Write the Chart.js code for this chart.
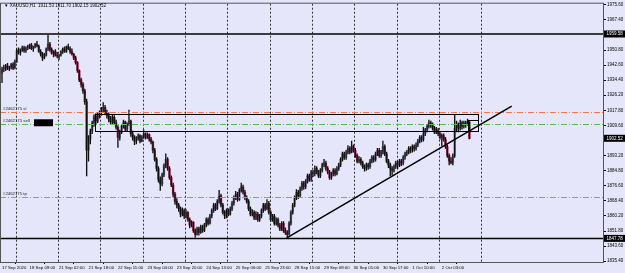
<!DOCTYPE html>
<html>
<head>
<meta charset="utf-8">
<title>XAUUSD,H1</title>
<script src="https://cdn.jsdelivr.net/npm/chart.js@4.4.1/dist/chart.umd.min.js"></script>
<style>
  html, body { margin: 0; padding: 0; background: #e6e6fa; }
  canvas { display: block; }
</style>
</head>
<body>
<canvas id="price_chart" width="625" height="273"></canvas>
<script>
// XAUUSD H1 candles, 17 Sep 2020 17:00 .. 2 Oct 2020
const opens = [
  1938.0,1940.5,1941.0,1942.0,1940.5,1941.5,1943.0,1941.0,1944.5,1950.5,
  1949.5,1951.0,1952.0,1950.5,1952.0,1952.5,1953.5,1951.5,1952.5,1954.0,
  1953.0,1950.0,1948.5,1946.5,1948.0,1951.5,1954.0,1951.0,1949.0,1950.0,
  1948.0,1947.5,1948.0,1950.0,1951.5,1950.0,1952.5,1951.5,1950.0,1948.5,
  1946.5,1944.0,1939.5,1934.5,1932.0,1928.5,1922.5,1896.0,1902.0,1906.5,
  1911.0,1914.5,1912.0,1915.5,1916.5,1918.5,1919.5,1916.5,1915.0,1913.0,
  1911.5,1914.0,1911.0,1908.5,1903.0,1906.0,1909.0,1911.5,1907.5,1910.0,
  1912.0,1905.0,1903.0,1901.0,1902.5,1904.0,1901.0,1903.5,1905.0,1903.0,
  1904.5,1902.0,1900.5,1896.0,1891.0,1886.0,1880.0,1877.5,1882.5,1887.5,
  1891.0,1886.0,1881.0,1877.0,1872.0,1868.0,1866.0,1864.0,1861.0,1863.0,
  1860.0,1862.0,1858.0,1855.0,1856.5,1852.0,1850.0,1853.0,1851.0,1854.0,
  1852.0,1855.0,1858.0,1856.0,1860.0,1863.0,1866.0,1864.0,1868.0,1871.0,
  1866.0,1862.0,1860.0,1863.0,1861.0,1864.0,1867.0,1870.0,1872.0,1869.0,
  1874.0,1876.0,1873.0,1870.0,1868.0,1864.0,1861.0,1862.0,1859.0,1861.0,
  1858.0,1860.0,1863.0,1866.0,1864.0,1867.0,1862.0,1858.0,1860.0,1856.0,
  1858.0,1855.0,1853.0,1856.0,1852.0,1851.0,1850.0,1856.0,1862.0,1866.0,
  1870.0,1873.0,1871.0,1875.0,1878.0,1876.0,1879.0,1882.0,1880.0,1884.0,
  1883.0,1886.0,1884.0,1882.0,1885.0,1888.0,1889.0,1886.0,1884.0,1881.0,
  1883.0,1885.0,1883.0,1886.0,1888.0,1891.0,1894.0,1892.0,1895.0,1897.0,
  1895.0,1898.0,1896.0,1893.0,1890.0,1891.0,1889.0,1887.0,1886.0,1888.0,
  1887.0,1890.0,1892.0,1891.0,1894.0,1896.0,1893.0,1895.0,1898.0,1894.0,
  1890.0,1888.0,1886.0,1885.0,1887.0,1889.0,1888.0,1890.0,1889.0,1892.0,
  1894.0,1895.0,1897.0,1896.0,1898.0,1897.0,1899.0,1901.0,1903.0,1902.0,
  1905.0,1907.0,1909.0,1911.0,1910.0,1908.0,1906.0,1907.0,1905.0,1903.0,
  1904.0,1902.0,1898.0,1893.0,1890.0,1889.0,1893.0,1908.0,1910.0,1908.0,
  1911.0,1909.0,1911.0,1910.0,1911.53
];
const highs = [
  1941.5,1942.5,1943.0,1943.5,1942.0,1943.5,1944.0,1945.5,1951.5,1952.0,
  1951.5,1953.0,1953.0,1952.5,1953.5,1954.0,1954.5,1953.0,1954.5,1955.5,
  1953.5,1951.0,1949.5,1949.0,1952.0,1958.8,1955.0,1952.0,1950.5,1951.0,
  1949.5,1948.5,1950.5,1952.0,1952.5,1953.0,1954.0,1952.5,1951.5,1949.0,
  1947.5,1944.5,1940.0,1935.5,1933.0,1929.5,1924.0,1904.0,1907.5,1912.0,
  1915.5,1916.0,1916.5,1917.5,1919.5,1922.0,1920.5,1918.0,1916.5,1914.5,
  1915.5,1915.0,1912.5,1909.5,1907.0,1910.0,1912.5,1912.0,1911.0,1918.0,
  1912.5,1906.5,1904.0,1903.5,1905.0,1904.5,1904.0,1907.0,1905.5,1905.5,
  1905.0,1903.0,1901.0,1897.0,1892.0,1887.0,1881.5,1883.5,1888.5,1894.0,
  1892.0,1887.0,1882.0,1878.0,1873.0,1869.5,1867.0,1865.0,1864.5,1864.0,
  1863.5,1862.5,1859.0,1857.5,1857.0,1853.0,1854.0,1854.0,1855.0,1855.0,
  1856.0,1859.0,1859.0,1861.0,1864.0,1867.0,1867.0,1869.0,1874.0,1872.0,
  1867.0,1863.0,1864.0,1864.0,1865.0,1868.0,1871.0,1873.5,1873.0,1875.0,
  1878.0,1877.0,1874.0,1871.0,1869.0,1865.0,1863.5,1863.0,1862.5,1862.0,
  1861.0,1864.0,1867.0,1867.0,1869.0,1868.0,1863.0,1861.0,1861.0,1859.0,
  1859.0,1856.0,1857.0,1857.0,1853.5,1852.0,1857.0,1863.0,1867.0,1871.0,
  1874.5,1874.0,1876.0,1879.0,1879.0,1880.0,1883.0,1883.0,1885.0,1885.0,
  1887.5,1887.0,1885.0,1886.0,1889.0,1891.0,1890.0,1887.0,1885.0,1884.0,
  1886.0,1886.0,1887.0,1889.0,1892.0,1895.0,1895.0,1896.0,1898.5,1898.0,
  1901.0,1899.0,1897.0,1894.0,1892.5,1892.0,1890.0,1888.0,1889.0,1889.0,
  1891.0,1893.0,1893.0,1895.0,1897.0,1897.0,1896.0,1901.0,1899.0,1895.0,
  1891.0,1889.0,1887.0,1888.0,1890.0,1890.0,1891.0,1891.0,1893.0,1895.0,
  1896.0,1898.0,1898.0,1899.0,1899.0,1900.0,1902.0,1904.0,1904.0,1908.5,
  1908.0,1910.0,1912.5,1912.0,1911.0,1909.0,1908.5,1908.0,1906.0,1905.0,
  1905.0,1903.0,1899.0,1894.0,1892.0,1894.0,1915.5,1912.0,1911.0,1912.5,
  1912.0,1912.0,1912.0,1913.0,1911.70
];
const lows = [
  1933.0,1939.0,1939.5,1940.0,1939.5,1940.5,1940.0,1940.5,1944.0,1948.5,
  1948.0,1950.0,1949.5,1949.5,1951.0,1951.5,1951.0,1950.0,1952.0,1952.5,
  1949.5,1947.5,1945.0,1946.0,1947.5,1950.5,1950.0,1948.5,1947.0,1947.5,
  1946.5,1945.5,1947.5,1949.0,1949.5,1949.5,1951.0,1949.0,1948.0,1945.5,
  1943.0,1938.5,1933.5,1930.5,1927.0,1921.0,1882.0,1890.0,1899.5,1905.0,
  1909.0,1910.5,1911.0,1913.5,1915.0,1917.0,1915.5,1913.5,1911.5,1910.0,
  1910.5,1910.0,1907.5,1897.5,1901.5,1905.0,1908.0,1906.5,1906.5,1909.5,
  1903.5,1901.5,1899.0,1899.5,1901.5,1900.0,1900.5,1902.5,1902.0,1902.5,
  1901.0,1899.5,1894.5,1890.0,1884.5,1878.5,1874.0,1876.5,1881.5,1886.5,
  1885.0,1880.0,1876.0,1870.5,1866.5,1864.5,1862.5,1859.5,1860.0,1858.5,
  1859.0,1857.0,1853.5,1854.0,1851.0,1848.5,1849.5,1849.5,1850.5,1851.0,
  1851.5,1854.0,1855.0,1855.5,1859.0,1862.0,1863.0,1863.5,1867.0,1865.0,
  1861.0,1858.5,1859.0,1860.0,1860.5,1863.0,1866.0,1869.0,1868.0,1868.5,
  1873.0,1872.0,1869.0,1867.0,1863.0,1860.0,1860.0,1858.0,1858.0,1857.0,
  1857.0,1859.0,1862.0,1863.0,1863.5,1861.0,1857.0,1857.0,1855.0,1855.0,
  1854.0,1852.0,1852.0,1851.0,1850.0,1848.0,1849.5,1855.0,1861.0,1865.0,
  1869.0,1869.5,1870.0,1874.0,1874.5,1875.0,1878.0,1879.0,1879.0,1881.5,
  1882.0,1883.0,1881.0,1881.0,1884.0,1887.0,1885.0,1883.0,1880.0,1880.0,
  1882.0,1882.0,1882.5,1885.0,1887.0,1890.0,1891.0,1891.0,1894.0,1894.0,
  1894.5,1895.0,1892.0,1889.0,1889.0,1888.0,1886.0,1884.5,1885.0,1885.5,
  1886.0,1889.0,1889.5,1890.0,1893.0,1892.0,1892.0,1894.0,1893.0,1889.0,
  1886.5,1882.0,1882.5,1884.0,1886.0,1886.0,1887.0,1887.5,1888.0,1891.0,
  1893.0,1894.0,1894.5,1895.0,1895.5,1896.0,1898.0,1900.0,1900.5,1901.0,
  1904.0,1906.0,1908.0,1908.5,1907.0,1905.0,1905.0,1904.0,1902.0,1898.5,
  1901.0,1897.0,1892.0,1888.0,1888.5,1888.0,1892.0,1906.0,1906.0,1907.0,
  1907.5,1908.0,1908.5,1909.5,1902.15
];
const closes = [
  1940.5,1941.0,1942.0,1940.5,1941.5,1943.0,1941.0,1944.5,1950.5,1949.5,
  1951.0,1952.0,1950.5,1952.0,1952.5,1953.5,1951.5,1952.5,1954.0,1953.0,
  1950.0,1948.5,1946.5,1948.0,1951.5,1954.0,1951.0,1949.0,1950.0,1948.0,
  1947.5,1948.0,1950.0,1951.5,1950.0,1952.5,1951.5,1950.0,1948.5,1946.5,
  1944.0,1939.5,1934.5,1932.0,1928.5,1922.5,1896.0,1902.0,1906.5,1911.0,
  1914.5,1912.0,1915.5,1916.5,1918.5,1919.5,1916.5,1915.0,1913.0,1911.5,
  1914.0,1911.0,1908.5,1903.0,1906.0,1909.0,1911.5,1907.5,1910.0,1912.0,
  1905.0,1903.0,1901.0,1902.5,1904.0,1901.0,1903.5,1905.0,1903.0,1904.5,
  1902.0,1900.5,1896.0,1891.0,1886.0,1880.0,1877.5,1882.5,1887.5,1891.0,
  1886.0,1881.0,1877.0,1872.0,1868.0,1866.0,1864.0,1861.0,1863.0,1860.0,
  1862.0,1858.0,1855.0,1856.5,1852.0,1850.0,1853.0,1851.0,1854.0,1852.0,
  1855.0,1858.0,1856.0,1860.0,1863.0,1866.0,1864.0,1868.0,1871.0,1866.0,
  1862.0,1860.0,1863.0,1861.0,1864.0,1867.0,1870.0,1872.0,1869.0,1874.0,
  1876.0,1873.0,1870.0,1868.0,1864.0,1861.0,1862.0,1859.0,1861.0,1858.0,
  1860.0,1863.0,1866.0,1864.0,1867.0,1862.0,1858.0,1860.0,1856.0,1858.0,
  1855.0,1853.0,1856.0,1852.0,1851.0,1850.0,1856.0,1862.0,1866.0,1870.0,
  1873.0,1871.0,1875.0,1878.0,1876.0,1879.0,1882.0,1880.0,1884.0,1883.0,
  1886.0,1884.0,1882.0,1885.0,1888.0,1889.0,1886.0,1884.0,1881.0,1883.0,
  1885.0,1883.0,1886.0,1888.0,1891.0,1894.0,1892.0,1895.0,1897.0,1895.0,
  1898.0,1896.0,1893.0,1890.0,1891.0,1889.0,1887.0,1886.0,1888.0,1887.0,
  1890.0,1892.0,1891.0,1894.0,1896.0,1893.0,1895.0,1898.0,1894.0,1890.0,
  1888.0,1886.0,1885.0,1887.0,1889.0,1888.0,1890.0,1889.0,1892.0,1894.0,
  1895.0,1897.0,1896.0,1898.0,1897.0,1899.0,1901.0,1903.0,1902.0,1905.0,
  1907.0,1909.0,1911.0,1910.0,1908.0,1906.0,1907.0,1905.0,1903.0,1904.0,
  1902.0,1898.0,1893.0,1890.0,1889.0,1893.0,1908.0,1910.0,1908.0,1911.0,
  1909.0,1911.0,1910.0,1911.53,1902.52
];

// time axis labels (bar index where each label sits)
const x_label_bars = [0, 15, 31, 47, 63, 79, 95, 111, 127, 143, 159, 175, 191, 207, 223, 239];
const x_labels = ['17 Sep 2020', '18 Sep 09:00', '21 Sep 02:00', '21 Sep 18:00', '22 Sep 11:00',
  '23 Sep 04:00', '23 Sep 20:00', '24 Sep 13:00', '25 Sep 06:00', '25 Sep 23:00',
  '28 Sep 15:00', '29 Sep 08:00', '30 Sep 01:00', '30 Sep 17:00', '1 Oct 10:00', '2 Oct 03:00'];
// dotted vertical grid (bar index)
const grid_bars = [7.5, 30.5, 53.5, 76.5, 99.5, 122.5, 145.5, 168.5, 191.5, 214.5, 237.5, 260.5];

// price axis
const y_ticks = [1975.60, 1967.40, 1950.80, 1942.60, 1934.40, 1926.20, 1917.80, 1909.60,
  1893.20, 1884.80, 1876.60, 1868.40, 1860.20, 1851.80, 1843.60, 1835.40];
const marked_prices = [1959.58, 1902.52, 1847.78];

// objects on the chart
const level_prices = [1959.58, 1847.78];
const order_prices = [1917.0, 1910.2, 1870.3];
const order_names = ['#2462175 sl', '#2462175 sell', '#2462175 tp'];
const zone_bars = [50.5, 258.7];
const zone_prices = [1915.6, 1906.6];
const small_zone_bars = [253.5, 258.7];
const small_zone_prices = [1912.4, 1906.6];
const trend_bars = [155, 277];
const trend_prices = [1848.2, 1920.1];

const title_text = '\u25BC XAUUSD,H1  1911.53 1911.70 1902.15 1902.52';

const bg_color = '#e6e6fa';
const bull_color = '#7f88ac';
const bear_color = '#a02a52';
const font_family = "'Liberation Sans', Arial, sans-serif";

const wick_data = lows.map((l, i) => ({ x: i, y: [l, highs[i]] }));
const body_data = opens.map((o, i) => ({ x: i, y: [o, closes[i]] }));
const body_colors = opens.map((o, i) => closes[i] >= o ? bull_color : bear_color);

function hline(ctx, x0, x1, y) {
  ctx.beginPath();
  ctx.moveTo(x0, y);
  ctx.lineTo(x1, y);
  ctx.stroke();
}

const overlay_plugin = {
  id: 'overlay',
  beforeDraw(chart) {
    const ctx = chart.ctx;
    ctx.save();
    ctx.fillStyle = bg_color;
    ctx.fillRect(0, 0, chart.width, chart.height);
    ctx.restore();
  },
  beforeDatasetsDraw(chart) {
    const { ctx, chartArea: a, scales: { x } } = chart;
    ctx.save();
    ctx.strokeStyle = '#333';
    ctx.lineWidth = 1;
    ctx.setLineDash([2, 2]);
    grid_bars.forEach(b => {
      const px = Math.round(x.getPixelForValue(b)) + 0.5;
      ctx.beginPath();
      ctx.moveTo(px, a.top);
      ctx.lineTo(px, a.bottom);
      ctx.stroke();
    });
    ctx.restore();
  },
  afterDatasetsDraw(chart) {
    const { ctx, chartArea: a, scales: { x, y } } = chart;
    ctx.save();
    ctx.beginPath();
    ctx.rect(a.left, a.top, a.right - a.left, a.bottom - a.top);
    ctx.clip();

    // order lines (dash-dot)
    const order_colors = ['#f07850', '#5cb85c', '#f07850'];
    ctx.lineWidth = 1;
    ctx.setLineDash([6, 2, 1, 2]);
    order_prices.forEach((p, k) => {
      const py = Math.round(y.getPixelForValue(p)) + 0.5;
      ctx.strokeStyle = order_colors[k];
      hline(ctx, a.left, a.right, py);
    });
    ctx.setLineDash([]);

    // order labels
    ctx.font = '4.3px ' + font_family;
    ctx.fillStyle = '#222';
    ctx.textBaseline = 'bottom';
    order_prices.forEach((p, k) => {
      const py = y.getPixelForValue(p);
      ctx.fillText(order_names[k], 3, py - 1);
      if (k === 1) {
        ctx.fillStyle = '#000';
        ctx.fillRect(34, py - 5, 19, 7);
        ctx.fillStyle = '#222';
      }
    });

    // horizontal levels
    ctx.strokeStyle = '#000';
    ctx.lineWidth = 1.5;
    level_prices.forEach(p => hline(ctx, a.left, a.right, y.getPixelForValue(p)));

    // rectangles
    ctx.lineWidth = 1;
    [[zone_bars, zone_prices], [small_zone_bars, small_zone_prices]].forEach(([bb, pp]) => {
      const x0 = Math.round(x.getPixelForValue(bb[0])) + 0.5;
      const x1 = Math.round(x.getPixelForValue(bb[1])) + 0.5;
      const y0 = Math.round(y.getPixelForValue(pp[0])) + 0.5;
      const y1 = Math.round(y.getPixelForValue(pp[1])) + 0.5;
      ctx.strokeRect(x0, y0, x1 - x0, y1 - y0);
    });

    // trend line
    ctx.lineWidth = 1.5;
    ctx.beginPath();
    ctx.moveTo(x.getPixelForValue(trend_bars[0]), y.getPixelForValue(trend_prices[0]));
    ctx.lineTo(x.getPixelForValue(trend_bars[1]), y.getPixelForValue(trend_prices[1]));
    ctx.stroke();
    ctx.restore();
  },
  afterDraw(chart) {
    const { ctx, chartArea: a, scales: { y } } = chart;
    ctx.save();
    // frame
    ctx.strokeStyle = '#555';
    ctx.lineWidth = 1;
    ctx.strokeRect(a.left + 0.5, a.top - 0.5, a.right - a.left, a.bottom - a.top + 1);

    // highlighted prices on the axis
    ctx.font = '4.5px ' + font_family;
    ctx.textBaseline = 'middle';
    marked_prices.forEach(p => {
      const py = y.getPixelForValue(p);
      ctx.fillStyle = '#000';
      ctx.fillRect(a.right + 1, py - 3.5, 21, 7);
      ctx.fillStyle = '#fff';
      ctx.fillText(p.toFixed(2), a.right + 3.5, py);
    });

    // title
    ctx.fillStyle = '#000';
    ctx.font = '4.5px ' + font_family;
    ctx.fillText(title_text, 4, 6);
    ctx.restore();
  }
};

const ctx = document.getElementById('price_chart').getContext('2d');
const price_chart = new Chart(ctx, {
  type: 'bar',
  data: {
    datasets: [
      { label: 'wick', data: wick_data, backgroundColor: '#111', barThickness: 0.7, grouped: false, order: 0 },
      { label: 'body', data: body_data, backgroundColor: body_colors, barThickness: 1.8, grouped: false, order: 1 }
    ]
  },
  options: {
    responsive: false,
    animation: false,
    devicePixelRatio: 1,
    layout: { padding: { top: 2, left: 0, right: 0, bottom: 0 } },
    plugins: { legend: { display: false }, tooltip: { enabled: false } },
    scales: {
      x: {
        type: 'linear',
        min: -1.09,
        max: 326.6,
        offset: false,
        afterBuildTicks(s) { s.ticks = x_label_bars.map(v => ({ value: v })); },
        afterFit(s) { s.height = 11; },
        ticks: {
          autoSkip: false, maxRotation: 0, align: 'start', padding: 1, color: '#000',
          font: { size: 4.3, family: font_family },
          callback(v) { return x_labels[x_label_bars.indexOf(v)]; }
        },
        grid: { drawOnChartArea: false, tickLength: 2, color: '#000' },
        border: { color: '#555' }
      },
      y: {
        position: 'right',
        min: 1834.86,
        max: 1976.14,
        afterBuildTicks(s) { s.ticks = y_ticks.map(v => ({ value: v })); },
        afterFit(s) { s.width = 22; },
        ticks: {
          autoSkip: false, padding: 1, color: '#000',
          font: { size: 4.5, family: font_family },
          callback(v) { return Number(v).toFixed(2); }
        },
        grid: { drawOnChartArea: false, tickLength: 3, color: '#000' },
        border: { color: '#555' }
      }
    }
  },
  plugins: [overlay_plugin]
});
</script>
</body>
</html>
